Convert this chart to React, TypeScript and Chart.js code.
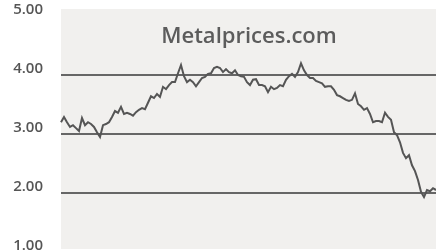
import React, { useEffect, useRef } from "react";
import { Chart, registerables } from "chart.js";

Chart.register(...registerables);

const prices: number[] = [
  3.2, 3.29, 3.2, 3.12, 3.15, 3.1, 3.05, 3.27, 3.15, 3.2, 3.17, 3.12, 3.03, 2.95, 3.15, 3.17,
  3.2, 3.29, 3.39, 3.36, 3.46, 3.34, 3.36, 3.34, 3.31, 3.37, 3.41, 3.44, 3.42, 3.53, 3.64, 3.61,
  3.68, 3.63, 3.8, 3.76, 3.83, 3.88, 3.88, 4.03, 4.17, 3.98, 3.88, 3.92, 3.88, 3.81, 3.88, 3.95,
  3.97, 4.02, 4.03, 4.12, 4.14, 4.12, 4.05, 4.1, 4.05, 4.03, 4.08, 4.0, 3.98, 3.97, 3.88, 3.83,
  3.92, 3.93, 3.83, 3.83, 3.81, 3.71, 3.8, 3.76, 3.78, 3.83, 3.81, 3.92, 3.98, 4.02, 3.97, 4.05,
  4.2, 4.08, 4.0, 3.95, 3.95, 3.9, 3.88, 3.86, 3.8, 3.81, 3.81, 3.75, 3.66, 3.64, 3.61, 3.58,
  3.56, 3.58, 3.69, 3.51, 3.47, 3.41, 3.44, 3.34, 3.2, 3.22, 3.22, 3.2, 3.36, 3.29, 3.24, 3.03,
  2.98, 2.86, 2.68, 2.59, 2.64, 2.47, 2.37, 2.22, 2.02, 1.93, 2.05, 2.03, 2.08, 2.05,
];
const periods: string[] = prices.map((_, i) => String(i + 1));
const yTicks: number[] = [1, 2, 3, 4, 5];
const gridValues: number[] = [2, 3, 4];
const watermark = "Metalprices.com";

export default function App() {
  const ref = useRef<HTMLCanvasElement | null>(null);
  useEffect(() => {
    document.body.style.margin = "0";
    const bgPlugin = {
      id: "bgPlugin",
      beforeDraw(chart: any) {
        const { ctx, chartArea } = chart;
        ctx.save();
        ctx.fillStyle = "#f1f0ee";
        ctx.fillRect(chartArea.left, chartArea.top, chartArea.right - chartArea.left, chartArea.bottom - chartArea.top);
        ctx.restore();
      },
      afterDatasetsDraw(chart: any) {
        const { ctx, chartArea } = chart;
        ctx.save();
        ctx.fillStyle = "#5c5c5c";
        ctx.font = "600 22px 'Open Sans', sans-serif";
        ctx.textAlign = "center";
        ctx.textBaseline = "middle";
        ctx.fillText(watermark, 249, chartArea.top + 28);
        ctx.restore();
      },
    };
    const chart = new Chart(ref.current!, {
      type: "line",
      data: {
        labels: periods,
        datasets: [
          {
            data: prices,
            borderColor: "#555555",
            borderWidth: 2,
            pointRadius: 0,
            tension: 0,
          },
        ],
      },
      options: {
        animation: false,
        responsive: false,
        layout: { padding: { top: 9, bottom: 3, left: 0, right: 0 } },
        plugins: { legend: { display: false }, tooltip: { enabled: false } },
        scales: {
          x: { display: false, offset: false },
          y: {
            min: 1.05,
            max: 5.12,
            afterBuildTicks: (scale: any) => {
              scale.ticks = yTicks.map((v) => ({ value: v }));
            },
            afterFit: (scale: any) => {
              scale.width = 61;
              scale.paddingTop = 0;
              scale.paddingBottom = 0;
            },
            border: { display: false },
            grid: {
              drawTicks: false,
              lineWidth: 2,
              color: (c: any) => (gridValues.includes(c.tick?.value) ? "#666666" : "rgba(0,0,0,0)"),
            },
            ticks: {
              padding: 18,
              labelOffset: -6,
              color: "#555555",
              font: { family: "'Open Sans', sans-serif", size: 15, weight: "600" as any },
              callback: (v: any) => Number(v).toFixed(2),
            },
          },
        },
      },
      plugins: [bgPlugin],
    });
    return () => chart.destroy();
  }, []);
  return (
    <div style={{ position: "fixed", left: 0, top: 0, width: 436, height: 252 }}>
      <canvas ref={ref} width={436} height={252} />
    </div>
  );
}
